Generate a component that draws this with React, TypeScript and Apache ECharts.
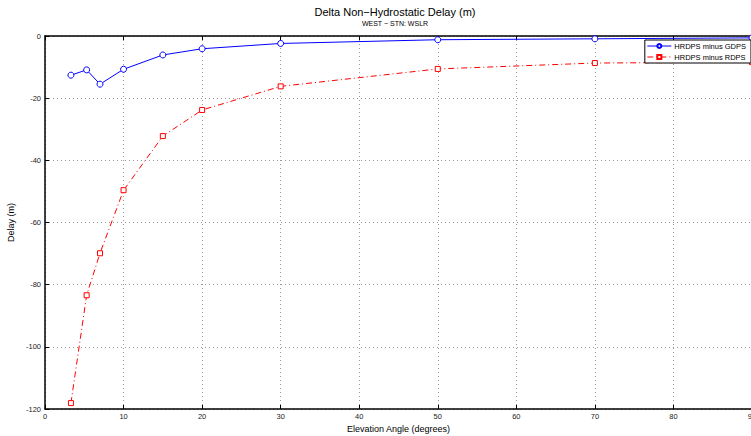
import React, { useEffect, useRef } from "react";
import * as echarts from "echarts";

const elevation = [3.3, 5.3, 7, 10, 15, 20, 30, 50, 70, 90];
const gdpsDiff = [-12.6, -10.9, -15.5, -10.7, -6.1, -4.1, -2.4, -1.2, -0.9, -0.6];
const rdpsDiff = [-118.1, -83.4, -69.9, -49.6, -32.2, -23.8, -16.2, -10.6, -8.7, -8.4];
const seriesNames = ["HRDPS minus GDPS", "HRDPS minus RDPS"];
const titleText = "Delta Non\u2212Hydrostatic Delay (m)";
const subTitleText = "WEST \u2212 STN: WSLR";
const xName = "Elevation Angle (degrees)";
const yName = "Delay (m)";

const FONT = "Liberation Sans, Arial, Helvetica, sans-serif";

export default function App() {
  const ref = useRef<HTMLDivElement>(null);
  useEffect(() => {
    if (!ref.current) return;
    const chart = echarts.init(ref.current, undefined, { renderer: "svg" });
    const grid = { left: 45, top: 36, right: 8, bottom: 27, outerBoundsMode: "none", containLabel: false };
    const axisLabel = { fontSize: 7.5, color: "#222", fontFamily: FONT };
    chart.setOption({
      animation: false,
      backgroundColor: "#fff",
      title: {
        text: titleText,
        subtext: subTitleText,
        left: 395,
        top: 6,
        textAlign: "center",
        itemGap: 3,
        padding: 0,
        textStyle: { fontSize: 11, fontWeight: "normal", color: "#000", fontFamily: FONT },
        subtextStyle: { fontSize: 7, color: "#000", fontFamily: FONT },
      },
      legend: {
        orient: "vertical",
        right: 9,
        top: 40,
        data: seriesNames,
        backgroundColor: "#fff",
        borderColor: "#000",
        borderWidth: 1,
        borderRadius: 0,
        padding: [2, 5, 2, 2],
        itemWidth: 24,
        itemHeight: 5,
        itemGap: 3,
        lineStyle: { width: 1 },
        textStyle: { fontSize: 7.5, color: "#000", fontFamily: FONT, padding: [0, 0, 0, -2] },
      },
      grid,
      xAxis: [
        {
          type: "value",
          min: 0,
          max: 90,
          interval: 10,
          name: xName,
          nameLocation: "middle",
          nameGap: 11,
          nameTextStyle: { fontSize: 9, color: "#000", fontFamily: FONT },
          axisLine: { onZero: false, lineStyle: { color: "#000", width: 1.5 } },
          axisTick: { inside: true, length: 4, lineStyle: { color: "#000" } },
          axisLabel: { ...axisLabel, margin: 3 },
          splitLine: { show: true, lineStyle: { color: "#999", type: [1, 3], width: 1 } },
        },
        {
          type: "value",
          position: "top",
          min: 0,
          max: 90,
          interval: 10,
          axisLine: { onZero: false, lineStyle: { color: "#000", width: 1.5 } },
          axisTick: { inside: true, length: 4, lineStyle: { color: "#000" } },
          axisLabel: { show: false },
          splitLine: { show: false },
        },
      ],
      yAxis: [
        {
          type: "value",
          min: -120,
          max: 0,
          interval: 20,
          name: yName,
          nameLocation: "middle",
          nameGap: 21,
          nameTextStyle: { fontSize: 9, color: "#000", fontFamily: FONT },
          axisLine: { onZero: false, lineStyle: { color: "#000", width: 1.5 } },
          axisTick: { inside: true, length: 4, lineStyle: { color: "#000" } },
          axisLabel: { ...axisLabel, margin: 4 },
          splitLine: { show: true, lineStyle: { color: "#999", type: [1, 3], width: 1 } },
        },
      ],
      series: [
        {
          name: seriesNames[0],
          type: "line",
          data: elevation.map((x, i) => [x, gdpsDiff[i]]),
          symbol: "circle",
          symbolSize: 6,
          showAllSymbol: true,
          color: "#0000ff",
          lineStyle: { color: "#0000ff", width: 1 },
          itemStyle: { color: "#fff", borderColor: "#0000ff", borderWidth: 1 },
        },
        {
          name: seriesNames[1],
          type: "line",
          data: elevation.map((x, i) => [x, rdpsDiff[i]]),
          symbol: "rect",
          symbolSize: 5,
          showAllSymbol: true,
          color: "#ff0000",
          lineStyle: { color: "#ff0000", width: 1, type: [6, 3, 1, 3] },
          itemStyle: { color: "#fff", borderColor: "#ff0000", borderWidth: 1 },
        },
      ],
    });
    return () => chart.dispose();
  }, []);
  return (
    <div
      ref={ref}
      style={{ position: "fixed", left: 0, top: 0, width: 760, height: 436, background: "#fff" }}
    />
  );
}
